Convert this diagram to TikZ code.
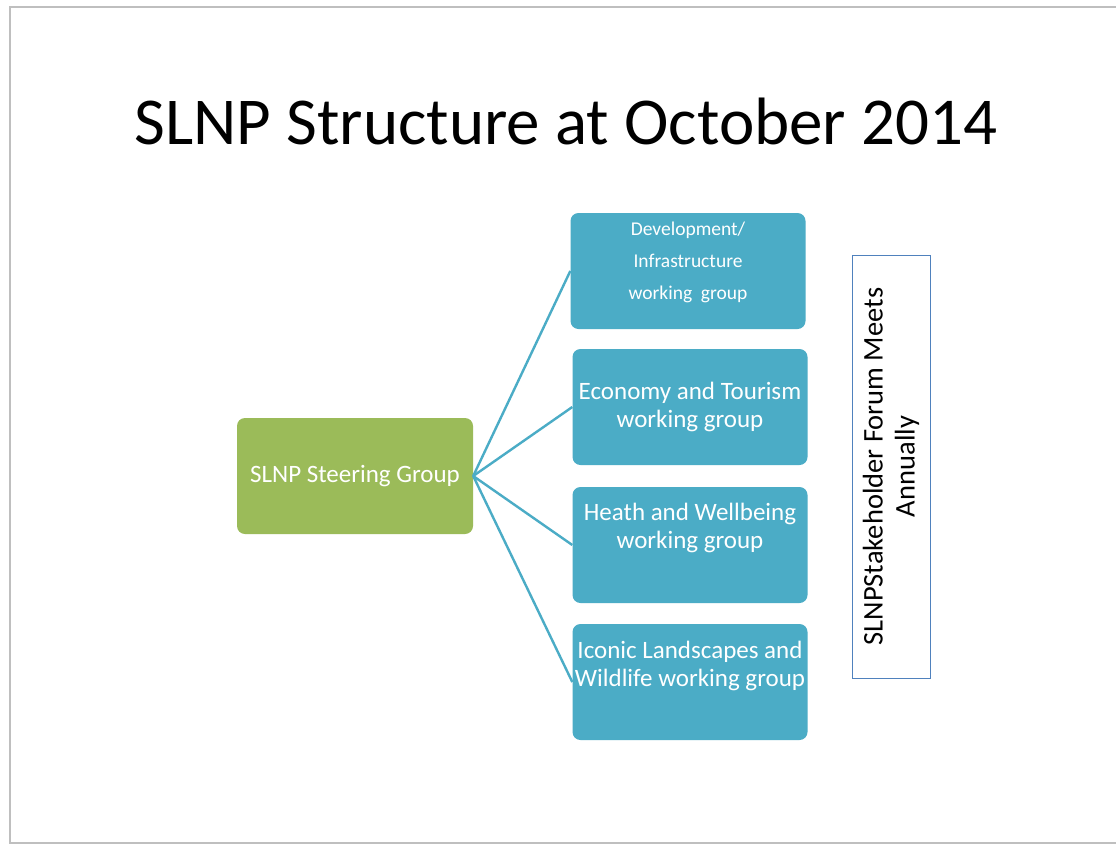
\documentclass[tikz,border=0pt]{standalone}
\usepackage{fontspec}
\setmainfont{Carlito}
\definecolor{sgreen}{HTML}{9BBB59}
\definecolor{sblue}{HTML}{4BACC6}
\definecolor{sframe}{HTML}{4F81BD}
\tikzset{
  box/.style={rounded corners=8pt, minimum width=235pt, minimum height=116pt, inner sep=2pt, align=center, text=white, draw=none},
  greenbox/.style={box, fill=sgreen, minimum width=236pt},
  bluebox/.style={box, fill=sblue},
  boxtext/.style={align=center, text=white, anchor=north, inner sep=0pt, font=\fontsize{25}{28}\selectfont},
  link/.style={draw=sblue, line width=2.4pt},
}
\begin{document}
\begin{tikzpicture}[x=1pt,y=-1pt]
\useasboundingbox (0,0) rectangle (1116,846);
\fill[white] (0,0) rectangle (1116,846);
\draw[black!25, line width=1.5pt] (1120,7) -- (10,7) -- (10,843) -- (1120,843);
\node[font=\fontsize{67}{80}\selectfont] (title) at (566,121) {SLNP Structure at October 2014};
\node[greenbox, font=\fontsize{25}{30}\selectfont] (steer) at (355,476) {SLNP Steering Group};
\node[bluebox] (dev) at (688,271) {};
\node[boxtext, font=\fontsize{19.5}{32}\selectfont] (devt) at (688,222) {Development/\\Infrastructure\\working\ \ group};
\node[bluebox, font=\fontsize{25}{28}\selectfont] (eco) at (690,407) {Economy and Tourism\\working group};
\node[bluebox] (hea) at (690,545) {};
\node[boxtext] (heat) at (690,503) {Heath and Wellbeing\\working group};
\node[bluebox] (ico) at (690,682) {};
\node[boxtext] (icot) at (690,641) {Iconic Landscapes and\\Wildlife working group};
\node[draw=sframe, line width=1pt, fill=white, minimum width=78pt, minimum height=423pt] (forum) at (891,466.5) {};
\node[rotate=90, align=center, font=\fontsize{28.5}{32}\selectfont] (forumt) at (891,466.5) {SLNPStakeholder Forum Meets\\Annually};
\draw[link] (steer.east) -- (dev.west);
\draw[link] (steer.east) -- (eco.west);
\draw[link] (steer.east) -- (hea.west);
\draw[link] (steer.east) -- (ico.west);
\end{tikzpicture}
\end{document}
